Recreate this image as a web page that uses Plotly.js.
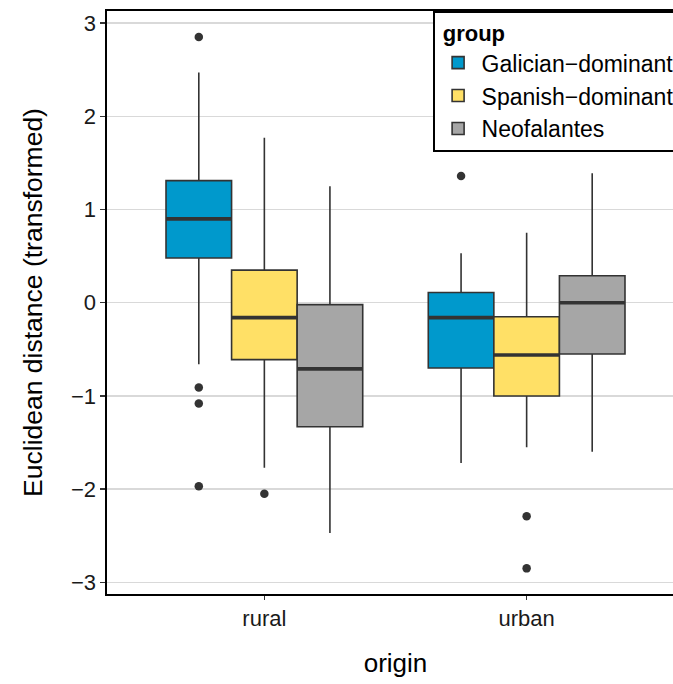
<!DOCTYPE html>
<html>
<head>
<meta charset="utf-8">
<script src="https://cdn.plot.ly/plotly-3.0.1.min.js"></script>
<style>
  html, body { margin: 0; padding: 0; background: #fff; overflow: hidden; }
  #chart { width: 700px; height: 684px; }
</style>
</head>
<body>
<div id="chart"></div>
<script>
// ---- data ----
const origins = ['rural', 'urban'];
const originPos = [1, 2];
const groups = ['Galician\u2212dominant', 'Spanish\u2212dominant', 'Neofalantes'];
const groupColors = ['#0099CC', '#FFE066', '#A6A6A6'];

const galicianQ1 = [0.48, -0.70];
const galicianMedian = [0.90, -0.16];
const galicianQ3 = [1.31, 0.11];
const galicianLow = [-0.66, -1.72];
const galicianHigh = [2.47, 0.53];
const galicianOutliers = [[2.85, -0.91, -1.08, -1.97], [1.36]];

const spanishQ1 = [-0.61, -1.00];
const spanishMedian = [-0.16, -0.56];
const spanishQ3 = [0.35, -0.15];
const spanishLow = [-1.77, -1.55];
const spanishHigh = [1.77, 0.75];
const spanishOutliers = [[-2.05], [-2.29, -2.85]];

const neoQ1 = [-1.33, -0.55];
const neoMedian = [-0.71, 0.00];
const neoQ3 = [-0.02, 0.29];
const neoLow = [-2.47, -1.60];
const neoHigh = [1.25, 1.39];
const neoOutliers = [[], []];

const yTicks = [-3, -2, -1, 0, 1, 2, 3];

// ---- build ----
const stats = [
  {q1: galicianQ1, med: galicianMedian, q3: galicianQ3, lo: galicianLow, hi: galicianHigh, out: galicianOutliers},
  {q1: spanishQ1, med: spanishMedian, q3: spanishQ3, lo: spanishLow, hi: spanishHigh, out: spanishOutliers},
  {q1: neoQ1, med: neoMedian, q3: neoQ3, lo: neoLow, hi: neoHigh, out: neoOutliers}
];
const dodgeWidth = 0.75;
const boxW = dodgeWidth / groups.length;
const ink = '#333333';
const FONT = '"Liberation Sans", Arial, Helvetica, sans-serif';

const traces = [];
stats.forEach((s, gi) => {
  const off = -dodgeWidth / 2 + boxW * (gi + 0.5);
  const xs = originPos.map(p => p + off);
  traces.push({
    type: 'box',
    name: groups[gi],
    x: xs,
    q1: s.q1, median: s.med, q3: s.q3,
    lowerfence: s.lo, upperfence: s.hi,
    width: boxW,
    whiskerwidth: 0,
    boxpoints: false,
    fillcolor: groupColors[gi],
    line: {color: ink, width: 1.6},
    hoverinfo: 'skip',
    legendrank: gi
  });
  // thicker median lines
  const mx = [], my = [];
  xs.forEach((x, i) => { mx.push(x - boxW / 2, x + boxW / 2, null); my.push(s.med[i], s.med[i], null); });
  traces.push({type: 'scatter', mode: 'lines', x: mx, y: my, line: {color: ink, width: 3.6},
    showlegend: false, hoverinfo: 'skip'});
  // outliers
  const ox = [], oy = [];
  s.out.forEach((arr, i) => arr.forEach(v => { ox.push(xs[i]); oy.push(v); }));
  if (ox.length) {
    traces.push({type: 'scatter', mode: 'markers', x: ox, y: oy,
      marker: {color: ink, size: 8.5}, showlegend: false, hoverinfo: 'skip'});
  }
});

const layout = {
  width: 700, height: 684,
  margin: {l: 107, r: 16, t: 11, b: 90},
  paper_bgcolor: '#ffffff', plot_bgcolor: '#ffffff',
  font: {family: FONT, color: '#000000', size: 22},
  showlegend: true,
  boxmode: 'overlay',
  xaxis: {
    range: [0.4, 2.6],
    tickvals: originPos, ticktext: origins,
    showgrid: false, zeroline: false,
    showline: true, linecolor: '#000000', linewidth: 1.6, mirror: true,
    ticks: 'outside', ticklen: 4, tickwidth: 1.3, tickcolor: ink,
    tickfont: {family: FONT, size: 22, color: '#1a1a1a'},
    title: {text: 'origin', font: {family: FONT, size: 26, color: '#000000'}, standoff: 24}
  },
  yaxis: {
    range: [-3.125, 3.13],
    tickvals: yTicks,
    showgrid: true, gridcolor: '#D9D9D9', gridwidth: 1.5,
    zeroline: false,
    showline: true, linecolor: '#000000', linewidth: 1.6, mirror: true,
    ticks: 'outside', ticklen: 5, tickwidth: 1.3, tickcolor: ink,
    tickfont: {family: FONT, size: 22, color: '#1a1a1a'},
    title: {text: 'Euclidean distance (transformed)', font: {family: FONT, size: 26.5, color: '#000000'}, standoff: 20}
  },
  legend: {
    x: 0.565, xanchor: 'left', y: 1, yanchor: 'top',
    bgcolor: '#ffffff', bordercolor: '#000000', borderwidth: 1.6,
    font: {family: FONT, size: 23, color: '#000000'},
    itemwidth: 37,
    title: {text: '\u00a0<b>group</b>', font: {family: FONT, size: 22, color: '#000000'}},
    traceorder: 'normal', tracegroupgap: 0
  }
};

Plotly.newPlot('chart', traces, layout, {displayModeBar: false, staticPlot: true});
</script>
</body>
</html>
